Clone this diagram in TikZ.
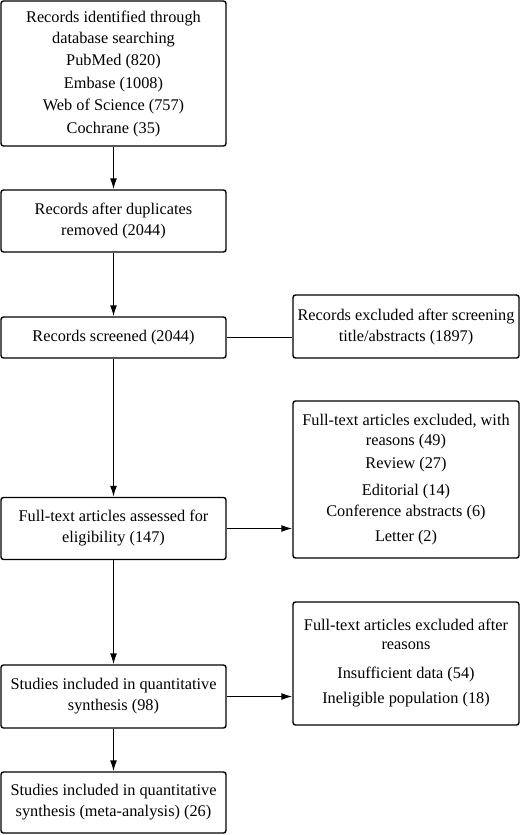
\documentclass[tikz,border=0pt]{standalone}
\usepackage{fontspec}
\setmainfont{Liberation Serif}
\usepackage{tikz}
\usetikzlibrary{arrows.meta,calc}
\tikzstyle{tsText} = [ 
    text=black, 
    font=\fontsize{16.3}{21}\selectfont
]
\tikzstyle{tsBox} = [ 
    rectangle,
    tsText,
    align=center,
    rounded corners=2.5pt,
    draw=black,
    inner sep=0pt,
    line width=1.4pt]
\tikzstyle{tsLeftBox} = [ 
    tsBox,
    minimum width=225pt]
\tikzstyle{tsRightBox} = [ 
    tsBox,
    minimum width=226pt]
\tikzstyle{tsLine} = [ 
    line width=1.4pt]
\tikzstyle{tsArrow} = [ 
    tsLine,
    -{Latex[length=11pt,width=7pt]}]

\begin{document}
\begin{tikzpicture}[x=1pt, y=-1pt]
        
        \useasboundingbox (0,0) rectangle (520,835);
        
        % left column
        \node[tsLeftBox, minimum height=145pt] (ident) at (113.5,73.5)
            {Records identified through\\database searching\\[1.5pt]
             PubMed (820)\\[1.5pt] Embase (1008)\\[1.5pt]
             Web of Science (757)\\[1.5pt] Cochrane (35)};
        \node[tsLeftBox, minimum height=62pt] (dupl) at (113.5,221)
            {Records after duplicates\\removed (2044)};
        \node[tsLeftBox, minimum height=41pt] (screen) at (113.5,337.5)
            {Records screened (2044)};
        \node[tsLeftBox, minimum height=62pt] (elig) at (113.5,528.5)
            {Full-text articles assessed for\\eligibility (147)};
        \node[tsLeftBox, minimum height=63pt] (quant) at (113.5,696.5)
            {Studies included in quantitative\\synthesis (98)};
        \node[tsLeftBox, minimum height=61pt] (meta) at (113.5,802.5)
            {Studies included in quantitative\\synthesis (meta-analysis) (26)};
        
        % right column
        \node[tsRightBox, minimum height=63pt] (exclA) at (406,326.5)
            {Records excluded after screening\\title/abstracts (1897)};
        \node[tsRightBox, minimum height=157pt] (exclB) at (406,479.5)
            {Full-text articles excluded, with\\[-1pt] reasons (49)\\[2pt]
             Review (27)\\[6pt] Editorial (14)\\ Conference abstracts (6)\\[4pt]
             Letter (2)};
        \node[tsRightBox, minimum height=123pt] (exclC) at (406,663.5)
            {Full-text articles excluded after\\[-2pt] reasons\\[8pt]
             Insufficient data (54)\\[4pt] Ineligible population (18)};
        
     	\draw[tsArrow] (ident) -- (dupl);
     	\draw[tsArrow] (dupl) -- (screen);
     	\draw[tsArrow] (screen) -- (elig);
     	\draw[tsArrow] (elig) -- (quant);
     	\draw[tsArrow] (quant) -- (meta);
     	
     	\draw[tsLine] (screen.east) -- (screen.east -| exclA.west);
     	\draw[tsArrow] (elig.east) -- (elig.east -| exclB.west);
     	\draw[tsArrow] (quant.east) -- (quant.east -| exclC.west);
   	 	
\end{tikzpicture}
\end{document}
